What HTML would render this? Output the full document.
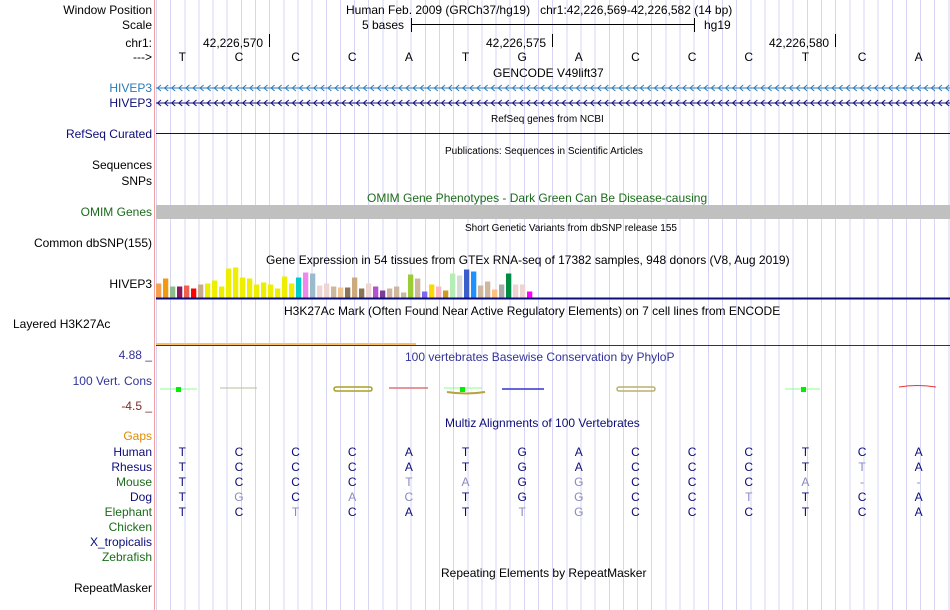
<!DOCTYPE html>
<html><head><meta charset="utf-8">
<style>
body{margin:0;width:950px;height:610px;overflow:hidden;background:#fff;font-family:"Liberation Sans",sans-serif;font-size:12px;position:relative}
.a{position:absolute;white-space:nowrap;line-height:14px}
.lab{position:absolute;right:798px;white-space:nowrap;line-height:14px;text-align:right}
#grid{position:absolute;left:156px;top:0;width:794px;height:610px;background:repeating-linear-gradient(90deg,#d6d6f4 0 1px,transparent 1px 14.15px)}
#vline{position:absolute;left:154px;top:0;width:1px;height:610px;background:#f4a0a0}
.c{position:absolute;width:20px;text-align:center;line-height:14px}
</style></head><body>
<div id="grid"></div>
<div id="vline"></div>

<div class="lab" style="top:3px">Window Position</div>
<div class="lab" style="top:18px">Scale</div>
<div class="lab" style="top:36px">chr1:</div>
<div class="lab" style="top:50px">---&gt;</div>
<div class="lab" style="top:81px;color:#2a7ab8">HIVEP3</div>
<div class="lab" style="top:96px;color:#0c0c78">HIVEP3</div>
<div class="lab" style="top:127px;color:#0c0c78">RefSeq Curated</div>
<div class="lab" style="top:158px">Sequences</div>
<div class="lab" style="top:174px">SNPs</div>
<div class="lab" style="top:205px;color:#1a6b1a">OMIM Genes</div>
<div class="lab" style="top:236px">Common dbSNP(155)</div>
<div class="lab" style="top:277px">HIVEP3</div>
<div class="a" style="left:13px;top:317px">Layered H3K27Ac</div>
<div class="lab" style="top:348px;color:#333399">4.88 _</div>
<div class="lab" style="top:374px;color:#333399">100 Vert. Cons</div>
<div class="lab" style="top:399px;color:#7a2a2a">-4.5 _</div>
<div class="lab" style="top:429px;color:#e08a00">Gaps</div>

<div class="a" style="left:346px;top:3px">Human Feb. 2009 (GRCh37/hg19)&nbsp;&nbsp;&nbsp;chr1:42,226,569-42,226,582 (14 bp)</div>
<div class="a" style="left:362px;top:18px">5 bases</div>
<div style="position:absolute;left:411px;top:18px;width:1px;height:14px;background:#000"></div>
<div style="position:absolute;left:411px;top:24px;width:284px;height:1px;background:#000"></div>
<div style="position:absolute;left:694px;top:18px;width:1px;height:14px;background:#000"></div>
<div class="a" style="left:704px;top:18px">hg19</div>
<div class="a" style="left:203px;top:36px">42,226,570</div>
<div style="position:absolute;left:269px;top:34px;width:1px;height:13px;background:#000"></div>
<div class="a" style="left:486px;top:36px">42,226,575</div>
<div style="position:absolute;left:552px;top:34px;width:1px;height:13px;background:#000"></div>
<div class="a" style="left:769px;top:36px">42,226,580</div>
<div style="position:absolute;left:835px;top:34px;width:1px;height:13px;background:#000"></div>

<div class="a" style="left:493px;top:66px">GENCODE V49lift37</div>
<svg style="position:absolute;left:156px;top:84px" width="794" height="8">
<defs><pattern id="ar1" width="7.1" height="8" patternUnits="userSpaceOnUse"><path d="M5 1 L1.5 4 L5 7" fill="none" stroke="#2a7ab8" stroke-width="1"/></pattern></defs>
<rect x="0" y="0" width="794" height="8" fill="url(#ar1)"/><line x1="0" y1="4" x2="794" y2="4" stroke="#2a7ab8"/>
</svg>
<svg style="position:absolute;left:156px;top:99px" width="794" height="8">
<defs><pattern id="ar2" width="7.1" height="8" patternUnits="userSpaceOnUse"><path d="M5 1 L1.5 4 L5 7" fill="none" stroke="#0c0c78" stroke-width="1"/></pattern></defs>
<rect x="0" y="0" width="794" height="8" fill="url(#ar2)"/><line x1="0" y1="4" x2="794" y2="4" stroke="#0c0c78"/>
</svg>
<div class="a" style="left:491px;top:113px;font-size:10px">RefSeq genes from NCBI</div>
<div style="position:absolute;left:156px;top:133px;width:794px;height:1px;background:#0c0c78"></div>
<div class="a" style="left:445px;top:145px;font-size:10px">Publications: Sequences in Scientific Articles</div>
<div class="a" style="left:367px;top:191px;color:#1a6b1a">OMIM Gene Phenotypes - Dark Green Can Be Disease-causing</div>
<div style="position:absolute;left:156px;top:205px;width:794px;height:14px;background:#c0c0c0"></div>
<div class="a" style="left:465px;top:222px;font-size:10px">Short Genetic Variants from dbSNP release 155</div>
<div class="a" style="left:266px;top:253px">Gene Expression in 54 tissues from GTEx RNA-seq of 17382 samples, 948 donors (V8, Aug 2019)</div>
<svg id="gtex" style="position:absolute;left:150px;top:260px" width="800" height="40"></svg>
<div class="a" style="left:284px;top:304px">H3K27Ac Mark (Often Found Near Active Regulatory Elements) on 7 cell lines from ENCODE</div>
<div style="position:absolute;left:156px;top:345px;width:794px;height:1px;background:#602030"></div>
<div style="position:absolute;left:156px;top:343px;width:260px;height:2px;background:#f8c060"></div>
<div class="a" style="left:405px;top:350px;color:#333399">100 vertebrates Basewise Conservation by PhyloP</div>
<svg style="position:absolute;left:150px;top:380px" width="800" height="20">
<line x1="10" y1="9" x2="47" y2="9" stroke="#8f8"/><rect x="26" y="7" width="5" height="5" fill="#0e0"/>
<line x1="70" y1="8" x2="107" y2="8" stroke="#bb9"/>
<rect x="184" y="7" width="38" height="4" rx="2" fill="none" stroke="#a9a020" stroke-width="1.5"/>
<line x1="239" y1="8" x2="278" y2="8" stroke="#d77" stroke-width="1.5"/>
<line x1="294" y1="8" x2="332" y2="8" stroke="#8f8"/><rect x="310" y="7" width="5" height="5" fill="#0e0"/>
<path d="M297 12 Q316 15 335 12" stroke="#b9a040" stroke-width="2" fill="none"/>
<line x1="352" y1="9" x2="394" y2="9" stroke="#33c" stroke-width="1.5"/>
<rect x="467" y="7" width="38" height="4" rx="2" fill="none" stroke="#b9b070" stroke-width="1.5"/>
<line x1="635" y1="9" x2="670" y2="9" stroke="#8f8"/><rect x="651" y="7" width="5" height="5" fill="#0e0"/>
<path d="M749 7 Q767 4 786 7" stroke="#e33" fill="none"/>
</svg>
<div class="a" style="left:445px;top:416px;color:#0c0c78">Multiz Alignments of 100 Vertebrates</div>
<div class="a" style="left:441px;top:566px">Repeating Elements by RepeatMasker</div>
<div class="lab" style="top:581px">RepeatMasker</div>
<div id="seq"></div>

<script>
const tissueHeights=[14,19,11,11,12,9,13,14,17,11,29,30,20,19,13,15,13,9,21,14,20,25,24,12,14,11,10,10,20,9,14,11,7,9,11,5,23,19,6,13,11,7,24,22,28,26,12,16,8,13,24,13,13,6];
const tissueColors=["#f5a050","#f09a10","#8fbc8f","#8b1a5a","#ee6050","#ff0000","#c8aa90","#eeee00","#eeee00","#eeee00","#eeee00","#eeee00","#eeee00","#eeee00","#eeee00","#eeee00","#eeee00","#eeee00","#eeee00","#eeee00","#00cccc","#ee88ee","#99bbcc","#eed5d2","#eed5d2","#cdb79e","#eec590","#8b7355","#cdaa7d","#8b7355","#eed5d2","#b452cd","#7d3c98","#cdb79e","#cdb79e","#cdb79e","#9acd32","#cdb79e","#7b68ee","#ffd700","#ffb6c1","#cd9b1d","#b4eeb4","#d9d9d9","#3a5fcd","#1e90ff","#cdb79e","#cdb79e","#ffc080","#aaaaaa","#008b45","#eed5d2","#eed5d2","#ff00ff"];
const bases=["T","C","C","C","A","T","G","A","C","C","C","T","C","A"];
const speciesNames=["Human","Rhesus","Mouse","Dog","Elephant","Chicken","X_tropicalis","Zebrafish"];
const speciesSeqs=["TCCCATGACCCTCA","TCCCATGACCCTtA","TCCCtaGgCCCa--","TgCacTGgCCtTCA","TCtCATtgCCCTCA","","",""];
const speciesColors=["#0c0c78","#0c0c78","#1a6b1a","#0c0c78","#1a6b1a","#1a6b1a","#0c0c78","#1a6b1a"];

const NS="http://www.w3.org/2000/svg";
const svg=document.getElementById('gtex');
const base=37.5, x0=6, pitch=7.0;
function xScale(i){return x0+i*pitch;}
function yScale(v){return base-v;}
tissueHeights.forEach((h,i)=>{
  const r=document.createElementNS(NS,'rect');
  r.setAttribute('x',xScale(i));r.setAttribute('y',yScale(h));
  r.setAttribute('width',5.3);r.setAttribute('height',h);
  r.setAttribute('fill',tissueColors[i]);
  
  
  svg.appendChild(r);
});
const bl=document.createElementNS(NS,'rect');
bl.setAttribute('x',6);bl.setAttribute('y',37.5);bl.setAttribute('width',794);bl.setAttribute('height',2);bl.setAttribute('fill','#0c0c78');


svg.appendChild(bl);

const seq=document.getElementById('seq');
const bw=(949-156)/14;
function bx(i){return 156+(i+0.5)*bw-10-2;}
bases.forEach((b,i)=>{
  const d=document.createElement('div');d.className='c';
  d.style.left=bx(i)+'px';d.style.top='50px';d.textContent=b;
  
  
  seq.appendChild(d);
});
speciesNames.forEach((n,k)=>{
  const y=445+k*15;
  const l=document.createElement('div');l.className='lab';l.style.top=y+'px';l.style.color=speciesColors[k];l.textContent=n;
  
  
  seq.appendChild(l);
  const s=speciesSeqs[k];
  for(let i=0;i<s.length;i++){
    const ch=s[i];const d=document.createElement('div');d.className='c';
    d.style.left=bx(i)+'px';d.style.top=y+'px';
    const lower=ch!==ch.toUpperCase()||ch==='-';
    d.style.color=lower?'#8a8ac0':'#0c0c78';
    d.textContent=ch.toUpperCase();
    
    
    seq.appendChild(d);
  }
});
</script>
</body></html>
